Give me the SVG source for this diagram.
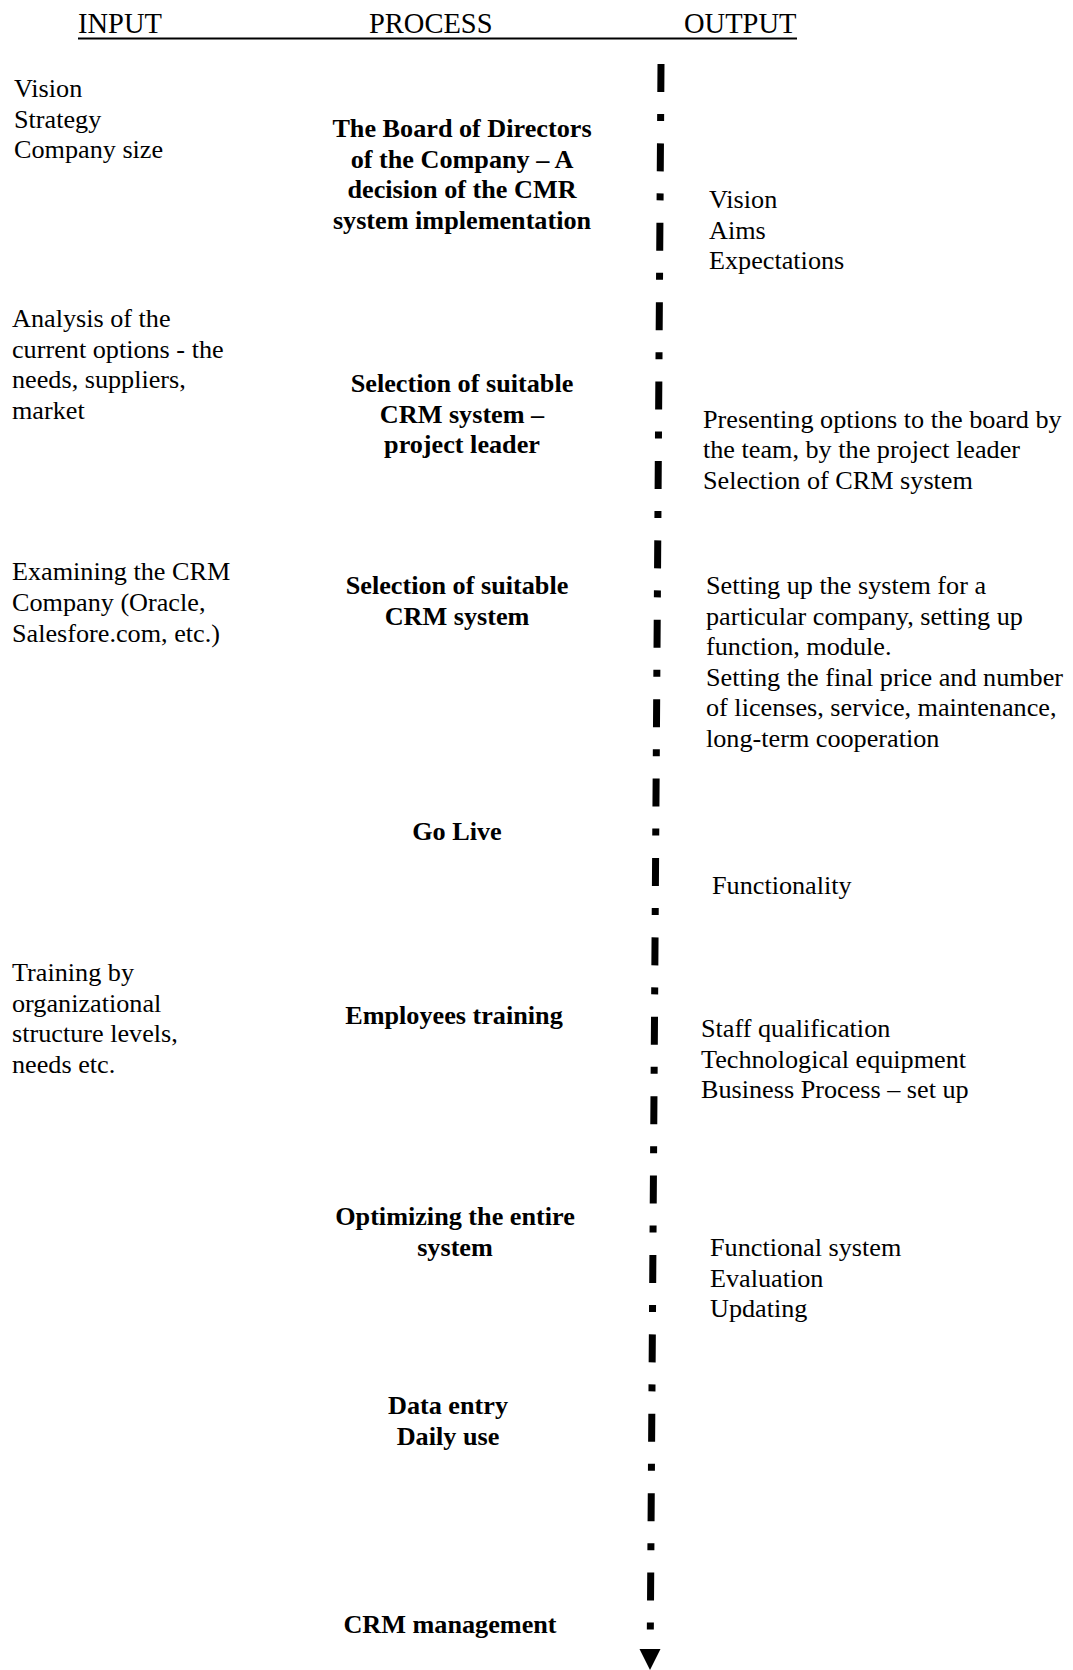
<svg xmlns="http://www.w3.org/2000/svg" width="1073" height="1670" viewBox="0 0 1073 1670">
<style>
text{font-family:"Liberation Serif","Times New Roman",serif;font-size:26.2px;fill:#000}
.hd{font-size:28.5px}
.pr{font-weight:bold;text-anchor:middle}
.flow{fill:none;stroke:#000;stroke-width:7;stroke-dasharray:28 22 7 22.4}
</style>
<rect width="1073" height="1670" fill="#fff"/>
<g id="header">
<text class="hd" x="78" y="33">INPUT</text>
<text class="hd" x="369" y="33">PROCESS</text>
<text class="hd" x="684" y="33">OUTPUT</text>
<line x1="78" y1="38.5" x2="797" y2="38.5" stroke="#000" stroke-width="1.8"/>
</g>
<g id="connectors">
<path class="flow" d="M661 64 L650.2 1650"/>
<polygon points="639.5,1649 660.5,1649 650,1670" fill="#000"/>
</g>
<g id="input1"><text x="14" y="97">Vision</text><text x="14" y="127.5">Strategy</text><text x="14" y="158">Company size</text></g>
<g id="input2"><text x="12" y="327">Analysis of the</text><text x="12" y="357.5">current options - the</text><text x="12" y="388">needs, suppliers,</text><text x="12" y="418.5">market</text></g>
<g id="input3"><text x="12" y="580">Examining the CRM</text><text x="12" y="611">Company (Oracle,</text><text x="12" y="641.5">Salesfore.com, etc.)</text></g>
<g id="input4"><text x="12" y="981">Training by</text><text x="12" y="1011.5">organizational</text><text x="12" y="1042">structure levels,</text><text x="12" y="1072.5">needs etc.</text></g>
<g id="process1"><text class="pr" x="462" y="137">The Board of Directors</text><text class="pr" x="462" y="167.5">of the Company – A</text><text class="pr" x="462" y="198">decision of the CMR</text><text class="pr" x="462" y="228.5">system implementation</text></g>
<g id="process2"><text class="pr" x="462" y="392">Selection of suitable</text><text class="pr" x="462" y="422.5">CRM system –</text><text class="pr" x="462" y="453">project leader</text></g>
<g id="process3"><text class="pr" x="457" y="594">Selection of suitable</text><text class="pr" x="457" y="624.5">CRM system</text></g>
<g id="process4"><text class="pr" x="457" y="840">Go Live</text></g>
<g id="process5"><text class="pr" x="454" y="1024">Employees training</text></g>
<g id="process6"><text class="pr" x="455" y="1225">Optimizing the entire</text><text class="pr" x="455" y="1255.5">system</text></g>
<g id="process7"><text class="pr" x="448" y="1414">Data entry</text><text class="pr" x="448" y="1444.5">Daily use</text></g>
<g id="process8"><text class="pr" x="450" y="1633">CRM management</text></g>
<g id="output1"><text x="709" y="208">Vision</text><text x="709" y="238.5">Aims</text><text x="709" y="269">Expectations</text></g>
<g id="output2"><text x="703" y="427.5">Presenting options to the board by</text><text x="703" y="458">the team, by the project leader</text><text x="703" y="488.5">Selection of CRM system</text></g>
<g id="output3"><text x="706" y="594">Setting up the system for a</text><text x="706" y="624.5">particular company, setting up</text><text x="706" y="655">function, module.</text><text x="706" y="685.5">Setting the final price and number</text><text x="706" y="716">of licenses, service, maintenance,</text><text x="706" y="746.5">long-term cooperation</text></g>
<g id="output4"><text x="712" y="894">Functionality</text></g>
<g id="output5"><text x="701" y="1037">Staff qualification</text><text x="701" y="1067.5">Technological equipment</text><text x="701" y="1098">Business Process – set up</text></g>
<g id="output6"><text x="710" y="1256">Functional system</text><text x="710" y="1286.5">Evaluation</text><text x="710" y="1317">Updating</text></g>
</svg>
